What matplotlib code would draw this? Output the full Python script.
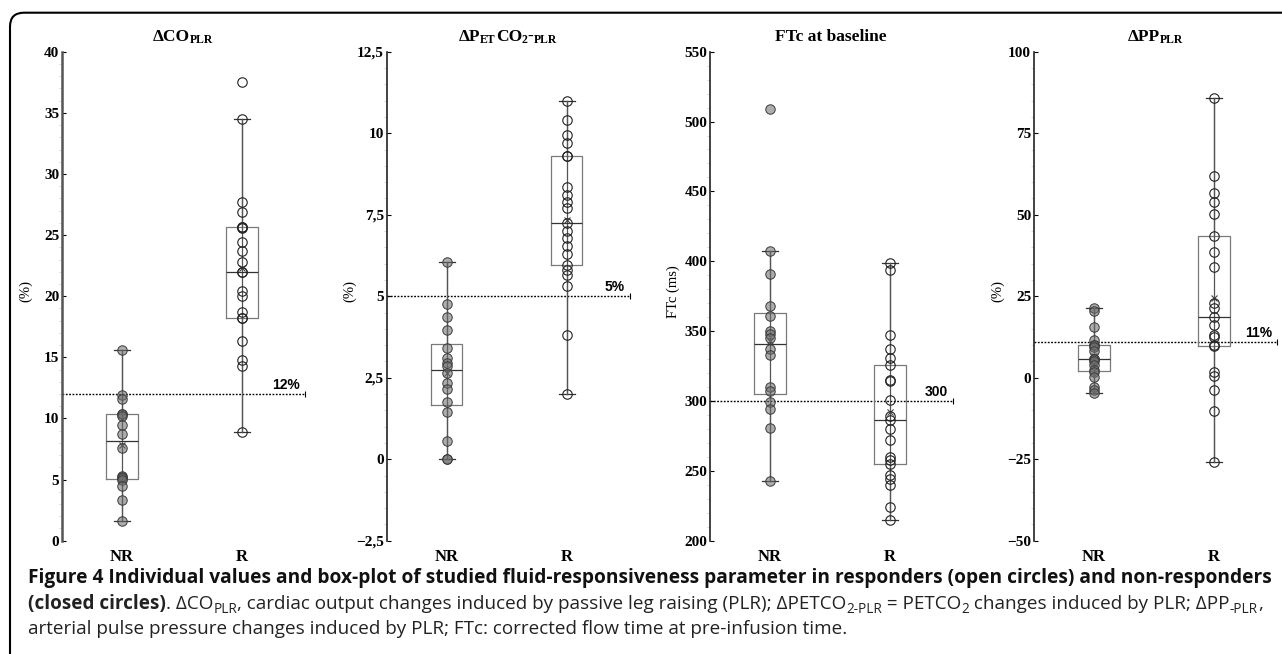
import matplotlib
matplotlib.use("Agg")
import matplotlib.pyplot as plt
from matplotlib.patches import FancyBboxPatch
from matplotlib.transforms import IdentityTransform
from matplotlib.ticker import MultipleLocator, AutoMinorLocator, FuncFormatter

# values (NR = non-responders, R = responders)
co_nr = [15.6, 11.9, 11.6, 10.4, 10.4, 10.2, 9.5, 8.7, 7.6, 5.3, 5.2, 5.1, 5.0, 4.5, 3.3, 1.6]
co_r = [37.5, 34.5, 27.7, 26.9, 25.7, 25.7, 25.6, 24.4, 23.7, 22.8, 22.0, 22.0, 20.4, 20.0,
        18.7, 18.2, 18.2, 16.3, 14.8, 14.3, 8.9]

petco2_nr = [6.05, 4.75, 4.35, 3.95, 3.4, 3.1, 2.95, 2.85, 2.65, 2.35, 2.15, 1.75, 1.45, 0.55, 0.0, 0.0]
petco2_r = [11.0, 10.4, 9.95, 9.7, 9.3, 9.3, 8.35, 8.1, 7.9, 7.7, 7.25, 7.0, 6.8, 6.55, 6.3,
            5.95, 5.8, 5.65, 5.3, 3.8, 2.0]

ftc_nr = [509, 407, 391, 368, 361, 350, 348, 345, 337, 333, 310, 307, 299, 294, 281, 243]
ftc_r = [399, 394, 347, 337, 331, 326, 315, 314, 301, 289, 286.5, 280, 272, 260, 258, 255,
         247, 244, 240, 224, 215]

pp_nr = [21.3, 20.5, 15.5, 11.6, 10.0, 10.0, 9.5, 8.3, 5.6, 5.6, 5.6, 5.2, 3.9, 2.4, 1.8, 0.3,
         -2.8, -3.8, -4.8]
pp_r = [85.8, 61.8, 56.6, 54.0, 50.1, 43.5, 38.5, 33.9, 22.8, 21.3, 18.7, 16.1, 13.1, 12.4,
        10.0, 9.6, 1.9, 0.4, -3.8, -10.1, -26.0]

groups = ["NR", "R"]
thresholds = [12, 5, 300, 11]
threshold_labels = ["12%", "5%", "300", "11%"]
y_limits = [(0, 40), (-2.5, 12.5), (200, 550), (-50, 100)]
y_steps = [5, 2.5, 50, 25]
y_labels = ["(%)", "(%)", "FTc (ms)", "(%)"]
titles = [
    [("ΔCO", 0), ("PLR", 1)],
    [("ΔP", 0), ("ET", 1), ("CO", 0), ("2", 1), ("-", 0), ("PLR", 1)],
    [("FTc at baseline", 0)],
    [("ΔPP", 0), ("PLR", 1)],
]
data = [(co_nr, co_r), (petco2_nr, petco2_r), (ftc_nr, ftc_r), (pp_nr, pp_r)]

W, H = 1282, 654
plt.rcParams["font.family"] = "Liberation Serif"
plt.rcParams["font.weight"] = "bold"

fig = plt.figure(figsize=(W / 100, H / 100), dpi=100)
renderer = fig.canvas.get_renderer()


def text_width(s, **kw):
    t1 = fig.text(0, 0, s + "|", **kw)
    t2 = fig.text(0, 0, "|", **kw)
    w = t1.get_window_extent(renderer).width - t2.get_window_extent(renderer).width
    t1.remove()
    t2.remove()
    return w


def rich_text(pieces, x, y, size, family, center=False, color="black",
              sub_scale=0.68, sub_drop=0.12):
    # pieces: (text, kind) with kind 0 normal, 1 subscript, 2 bold
    styles = []
    for s, kind in pieces:
        kw = dict(family=family, color=color)
        if family == "Open Sans":
            kw["weight"] = "bold" if kind == 2 else "normal"
        else:
            kw["weight"] = "bold"
        kw["fontsize"] = size * sub_scale if kind == 1 else size
        dy = -size * sub_drop * 100 / 72 if kind == 1 else 0
        styles.append((s, kw, dy, text_width(s, **kw)))
    if center:
        x -= sum(st[3] for st in styles) / 2
    for s, kw, dy, w in styles:
        fig.text(x / W, (H - y + dy) / H, s, va="baseline", ha="left", **kw)
        x += w


axis_left = [62, 386.7, 710, 1034]
ax_w = 245
ax_bottom, ax_top = 540.7, 51.7
unit = 120.0
fmt = FuncFormatter(lambda v, p: ("%g" % v).replace(".", ",").replace("-", "\u2212"))

for i in range(4):
    left = axis_left[i]
    ax = fig.add_axes([left / W, (H - ax_bottom) / H, ax_w / W, (ax_bottom - ax_top) / H])
    ax.patch.set_alpha(0)
    for side in ["top", "right", "bottom"]:
        ax.spines[side].set_visible(False)
    ax.spines["left"].set_linewidth(1.8 if i == 0 else 1.2)
    ax.spines["left"].set_color("#555555" if i == 0 else "#222222")

    nr, r = data[i]
    bp = ax.boxplot([nr, r], positions=[0.5, 1.5], widths=0.26, whis=1.5,
                    showfliers=False, showmeans=True, capwidths=0.13,
                    boxprops=dict(color="#7a7a7a", lw=0.9),
                    medianprops=dict(color="#333333", lw=0.9),
                    whiskerprops=dict(color="#555555", lw=0.9),
                    capprops=dict(color="#333333", lw=0.9),
                    meanprops=dict(marker="x", markeredgecolor="#444444", markersize=5,
                                   markeredgewidth=0.8))
    # whisker line runs straight through the box
    for k, pos in enumerate([0.5, 1.5]):
        lo = bp["whiskers"][2 * k].get_ydata()[1]
        hi = bp["whiskers"][2 * k + 1].get_ydata()[1]
        ax.plot([pos, pos], [lo, hi], color="#555555", lw=0.9, zorder=2)

    ax.plot([0.5] * len(nr), nr, "o", ms=6.8, mfc=(0.42, 0.42, 0.42, 0.55), mec="#3a3a3a",
            mew=0.7, zorder=3)
    ax.plot([1.5] * len(r), r, "o", ms=6.8, mfc="none", mec="#222222", mew=0.8, zorder=3)

    ax.set_xlim(0, ax_w / unit)
    ax.set_ylim(*y_limits[i])
    ax.yaxis.set_major_locator(MultipleLocator(y_steps[i]))
    ax.yaxis.set_minor_locator(AutoMinorLocator(5))
    ax.yaxis.set_major_formatter(fmt)
    ax.tick_params(axis="y", which="major", direction="in", length=3, width=0.8, pad=2,
                   labelsize=11)
    ax.tick_params(axis="y", which="minor", direction="out", length=2, width=0.5,
                   color="#c8c8c8")
    ax.set_xticks([0.5, 1.5])
    ax.set_xticklabels(groups)
    ax.tick_params(axis="x", length=0, pad=6, labelsize=12)

    ax.set_ylabel(y_labels[i], fontsize=10.5)
    ax.yaxis.set_label_coords(-30 / ax_w, 0.51)

    thr = thresholds[i]
    end = 243 / unit
    ax.plot([0, end], [thr, thr], color="black", lw=1.0, ls=(0, (1.3, 1.1)), zorder=1.5,
            clip_on=False)
    ax.plot([end], [thr], marker="|", ms=5, color="black", mew=0.8, clip_on=False)
    ax.annotate(threshold_labels[i], (238 / unit, thr), xytext=(0, 1.5),
                textcoords="offset points", ha="right", va="bottom",
                family="Liberation Sans", weight="bold", fontsize=10)

    rich_text(titles[i], left + 121, 40.7, 12.5, "Liberation Serif", center=True)

# rounded frame around the figure
frame = FancyBboxPatch((10, -40), 1320, H - 12.7 + 40,
                       boxstyle="round,pad=0,rounding_size=14",
                       transform=IdentityTransform(), fill=False, ec="black", lw=1.5)
fig.add_artist(frame)

cap = 13.8
cap_reg = 13.6
rich_text([("Figure 4 Individual values and box-plot of studied fluid-responsiveness parameter "
            "in responders (open circles) and non-responders", 2)],
          28, 583, cap, "Open Sans", color="#111111")
rich_text([("(closed circles)", 2), (". ΔCO", 0), ("PLR", 1),
           (", cardiac output changes induced by passive leg raising (PLR); ΔPETCO", 0),
           ("2-PLR", 1), (" = PETCO", 0), ("2", 1),
           (" changes induced by PLR; ΔPP", 0), ("-PLR", 1), (",", 0)],
          28, 609, cap_reg, "Open Sans", color="#222222", sub_scale=0.72, sub_drop=0.2)
rich_text([("arterial pulse pressure changes induced by PLR; FTc: corrected flow time at "
            "pre-infusion time.", 0)],
          28, 634.5, cap_reg, "Open Sans", color="#222222")

fig.savefig("out.png", dpi=100)
